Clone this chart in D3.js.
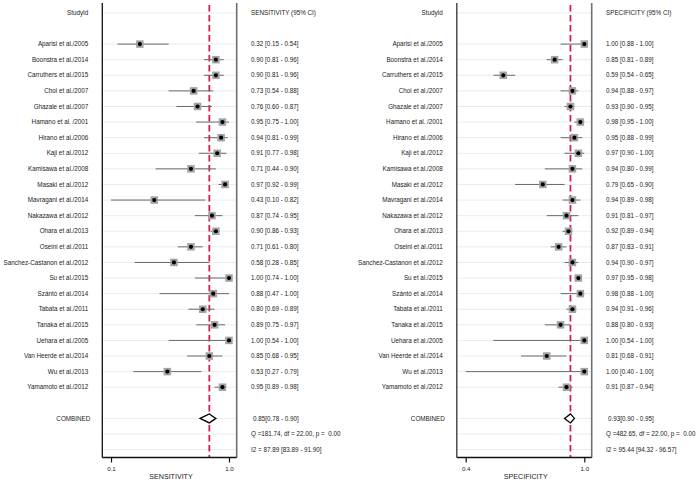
<!DOCTYPE html>
<html><head><meta charset="utf-8">
<script src="https://cdn.jsdelivr.net/npm/d3@7"></script>
<style>html,body{margin:0;padding:0;background:#fff;} svg{display:block;}</style>
</head><body>
<script>
const studies = ["Aparisi et al./2005","Boonstra et al./2014","Carruthers et al./2015","Choi et al./2007","Ghazale et al./2007","Hamano et al. /2001","Hirano et al./2006","Kaji et al./2012","Kamisawa et al./2008","Masaki et al./2012","Mavragani et al./2014","Nakazawa et al./2012","Ohara et al./2013","Oseini et al./2011","Sanchez-Castanon et al./2012","Su et al./2015","Szántó et al./2014","Tabata et al./2011","Tanaka et al./2015","Uehara et al./2005","Van Heerde et al./2014","Wu et al./2013","Yamamoto et al./2012"];
const sens   = [0.32,0.90,0.90,0.73,0.76,0.95,0.94,0.91,0.71,0.97,0.43,0.87,0.90,0.71,0.58,1.00,0.88,0.80,0.89,1.00,0.85,0.53,0.95];
const sensLo = [0.15,0.81,0.81,0.54,0.60,0.75,0.81,0.77,0.44,0.92,0.10,0.74,0.86,0.61,0.28,0.74,0.47,0.69,0.75,0.54,0.68,0.27,0.89];
const sensHi = [0.54,0.96,0.96,0.88,0.87,1.00,0.99,0.98,0.90,0.99,0.82,0.95,0.93,0.80,0.85,1.00,1.00,0.89,0.97,1.00,0.95,0.79,0.98];
const spec   = [1.00,0.85,0.59,0.94,0.93,0.98,0.95,0.97,0.94,0.79,0.94,0.91,0.92,0.87,0.94,0.97,0.98,0.94,0.88,1.00,0.81,1.00,0.91];
const specLo = [0.88,0.81,0.54,0.88,0.90,0.95,0.88,0.90,0.80,0.65,0.89,0.81,0.89,0.83,0.90,0.95,0.88,0.91,0.80,0.54,0.68,0.40,0.87];
const specHi = [1.00,0.89,0.65,0.97,0.95,1.00,0.99,1.00,0.99,0.90,0.98,0.97,0.94,0.91,0.97,0.98,1.00,0.96,0.93,1.00,0.91,1.00,0.94];
const sensCombined = [0.85,0.78,0.90];
const specCombined = [0.93,0.90,0.95];
const sensQ = [181.74,22.00,0.00];
const specQ = [482.65,22.00,0.00];
const sensI2 = [87.89,83.89,91.90];
const specI2 = [95.44,94.32,96.57];
const sensTicks = [0.1,1.0];
const specTicks = [0.4,1.0];

const W=700,H=487;
const svg=d3.select("body").append("svg").attr("width",W).attr("height",H);
const FONT="'Liberation Sans', Arial, sans-serif";
const f2=d3.format(".2f");
const nRows=studies.length;
// row index: 0 header, 1 blank, 2..24 studies, 25 blank, 26 combined, 27 Q, 28 I2
const y=d3.scaleLinear().domain([0,28]).range([12.9,449.6]);

function panel(o){
  const g=svg.append("g");
  const x=d3.scaleLinear().domain([o.ticks[0],1]).range(o.tickRange);
  const gridRows=[0].concat(d3.range(2,2+nRows)).concat([26,27,28]);
  g.selectAll("line.grid").data(gridRows).join("line")
    .attr("x1",o.frame[0]).attr("x2",o.frame[1])
    .attr("y1",d=>y(d)).attr("y2",d=>y(d))
    .attr("stroke","#e4eef0").attr("stroke-width",1);
  // combined line (beneath markers)
  g.append("line").attr("x1",x(o.comb[0])).attr("x2",x(o.comb[0])).attr("y1",5).attr("y2",457)
    .attr("stroke","#d41f4a").attr("stroke-width",1.8).attr("stroke-dasharray","6.5,3.5");
  // CI lines
  g.selectAll("line.ci").data(d3.range(nRows)).join("line")
    .attr("x1",i=>x(o.lo[i])).attr("x2",i=>x(o.hi[i]))
    .attr("y1",i=>y(i+2)).attr("y2",i=>y(i+2))
    .attr("stroke","#6a6a6a").attr("stroke-width",1);
  // squares
  const s=7.5;
  g.selectAll("rect.sq").data(d3.range(nRows)).join("rect")
    .attr("x",i=>x(o.est[i])-s/2).attr("y",i=>y(i+2)-s/2)
    .attr("width",s).attr("height",s).attr("fill","#a3a3a3");
  g.selectAll("circle.pt").data(d3.range(nRows)).join("circle")
    .attr("cx",i=>x(o.est[i])).attr("cy",i=>y(i+2)).attr("r",2.1).attr("fill","#000");
  // frame
  g.append("line").attr("x1",o.frame[0]).attr("x2",o.frame[0]).attr("y1",3).attr("y2",457.5)
    .attr("stroke",o.leftColor).attr("stroke-width",1.3);
  g.append("line").attr("x1",o.frame[1]).attr("x2",o.frame[1]).attr("y1",3).attr("y2",457.5)
    .attr("stroke","#707070").attr("stroke-width",1.6);
  // bottom axis
  g.append("line").attr("x1",o.frame[0]).attr("x2",o.frame[1]).attr("y1",457.5).attr("y2",457.5)
    .attr("stroke","#111").attr("stroke-width",1.3);
  const ax=d3.axisBottom(x).tickValues(o.ticks).tickFormat(d3.format(".1f")).tickSize(5).tickPadding(4);
  const axg=g.append("g").attr("transform","translate(0,457.5)").call(ax);
  axg.select(".domain").remove();
  axg.selectAll(".tick line").attr("stroke","#111").attr("stroke-width",1.2);
  axg.selectAll(".tick text").attr("font-family",FONT).attr("font-size","6.2px").attr("fill","#222");
  g.append("text").attr("x",(o.frame[0]+o.frame[1])/2+1.5).attr("y",479)
    .attr("text-anchor","middle").attr("font-family",FONT).attr("font-size","7.1px").attr("fill","#222")
    .text(o.title);
  // diamond
  const cy=y(26);
  g.append("path").attr("d",`M${x(o.comb[1])},${cy}L${x(o.comb[0])},${cy-4.5}L${x(o.comb[2])},${cy}L${x(o.comb[0])},${cy+4.5}Z`)
    .attr("fill","#fff").attr("stroke","#000").attr("stroke-width",1.3);
  // texts
  const T=(xx,yy,txt,anchor)=>g.append("text").attr("x",xx).attr("y",yy).attr("dy","0.35em")
    .attr("text-anchor",anchor).attr("font-family",FONT).attr("font-size","6.3px").attr("fill","#222")
    .style("white-space","pre").text(txt);
  T(o.labelX,y(0),"StudyId","end");
  T(o.valX,y(0),o.header,"start");
  studies.forEach((st,i)=>{
    T(o.labelX,y(i+2),st,"end");
    T(o.valX,y(i+2),`${f2(o.est[i])} [${f2(o.lo[i])} - ${f2(o.hi[i])}]`,"start");
  });
  T(o.labelX+2,y(26),"COMBINED","end");
  T(o.valX+2,y(26),`${f2(o.comb[0])}[${f2(o.comb[1])} - ${f2(o.comb[2])}]`,"start");
  T(o.valX,y(27),`Q =${f2(o.q[0])}, df = ${f2(o.q[1])}, p =  ${f2(o.q[2])}`,"start");
  T(o.valX,y(28),`I2 = ${f2(o.i2[0])} [${f2(o.i2[1])} - ${f2(o.i2[2])}]`,"start");
}

panel({est:sens,lo:sensLo,hi:sensHi,comb:sensCombined,q:sensQ,i2:sensI2,ticks:sensTicks,
  tickRange:[111,229],frame:[102.3,236.7],labelX:88.3,valX:251,header:"SENSITIVITY (95% CI)",title:"SENSITIVITY",leftColor:"#111"});
panel({est:spec,lo:specLo,hi:specHi,comb:specCombined,q:specQ,i2:specI2,ticks:specTicks,
  tickRange:[465.7,584.3],frame:[456.8,591.7],labelX:442.8,valX:606,header:"SPECIFICITY (95% CI)",title:"SPECIFICITY",leftColor:"#333"});
</script>
</body></html>
